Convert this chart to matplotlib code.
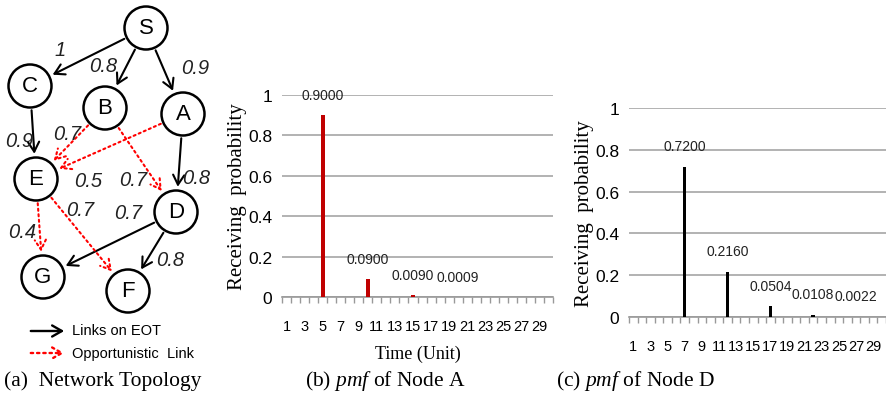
import matplotlib.pyplot as plt
from matplotlib.patches import Circle, FancyArrowPatch
import numpy as np

plt.rcParams['mathtext.fontset'] = 'custom'
plt.rcParams['mathtext.it'] = 'Liberation Serif:italic'
plt.rcParams['mathtext.rm'] = 'Liberation Serif'

# ---- data ----
time_units = list(range(1, 31))
tick_labels = [str(t) for t in range(1, 31, 2)]

pmf_a_times = [5, 10, 15, 20]
pmf_a_values = [0.9000, 0.0900, 0.0090, 0.0009]

pmf_d_times = [7, 12, 17, 22, 27]
pmf_d_values = [0.7200, 0.2160, 0.0504, 0.0108, 0.0022]

# network topology (positions in pixels of the left panel)
node_names = ['S', 'C', 'B', 'A', 'E', 'D', 'G', 'F']
node_x = [146, 30, 105, 183, 36, 176, 43, 128]
node_y = [29, 87, 109, 115, 180, 213, 278, 292]

eot_edges = [('S', 'C'), ('S', 'B'), ('S', 'A'), ('C', 'E'), ('A', 'D'), ('D', 'G'), ('D', 'F')]
opp_edges = [('B', 'E'), ('A', 'E'), ('B', 'D'), ('E', 'G'), ('E', 'F')]

edge_labels = ['1', '0.8', '0.9', '0.9', '0.7', '0.5', '0.7', '0.8', '0.7', '0.7', '0.4', '0.8']
edge_label_x = [60, 103, 195, 19, 67, 88, 133, 196, 80, 128, 22, 170]
edge_label_y = [51, 67, 69, 142, 135, 182, 181, 179, 211, 214, 233, 261]

W, H = 886, 402
fig = plt.figure(figsize=(W / 100, H / 100), dpi=100)

SANS = ['Liberation Sans', 'DejaVu Sans']
SERIF = ['Liberation Serif', 'DejaVu Serif']


def pmf_axes(rect, times, values, color, xlabel, ylab_x):
    ax = fig.add_axes(rect)
    ax.bar(times, values, width=0.42, color=color, zorder=3)
    for t, v in zip(times, values):
        ax.text(t, v + 0.065, '%.4f' % v, ha='center', va='bottom',
                fontsize=10, family=SANS, color='#222222')
    ax.set_xlim(0.5, 30.5)
    ax.set_ylim(0, 1)
    ax.set_yticks([0, 0.2, 0.4, 0.6, 0.8, 1])
    ax.set_yticklabels(['0', '0.2', '0.4', '0.6', '0.8', '1'], family=SANS, fontsize=12.5)
    ax.yaxis.grid(True, color='#a6a6a6', linewidth=1.2, zorder=0)
    ax.tick_params(axis='y', length=0, pad=7)
    ax.set_xticks(range(1, 31, 2))
    ax.set_xticklabels(tick_labels, family=SANS, fontsize=10.5)
    ax.set_xticks(np.arange(0.5, 31, 1), minor=True)
    ax.tick_params(axis='x', which='major', length=0, pad=16)
    ax.tick_params(axis='x', which='minor', length=4, color='#999999', width=1)
    for s in ['left', 'right', 'top']:
        ax.spines[s].set_visible(False)
    ax.spines['bottom'].set_color('#999999')
    ax.spines['bottom'].set_linewidth(1.2)
    ax.set_ylabel('Receiving  probability', family=SERIF, fontsize=15)
    ax.yaxis.set_label_coords(ylab_x, 0.5)
    if xlabel:
        ax.set_xlabel(xlabel, family=SERIF, fontsize=13, labelpad=8)
    return ax


pmf_axes([282 / W, 1 - 298 / H, 271 / W, 202 / H], pmf_a_times, pmf_a_values, '#c00000', 'Time (Unit)', -0.13)
pmf_axes([629 / W, 1 - 318 / H, 257 / W, 209 / H], pmf_d_times, pmf_d_values, 'black', None, -0.137)

# ---- network topology panel ----
gax = fig.add_axes([0, 0, 1, 1])
gax.set_xlim(0, W)
gax.set_ylim(H, 0)
gax.axis('off')

R = 21.5
pos = {n: (x, y) for n, x, y in zip(node_names, node_x, node_y)}
for n in node_names:
    x, y = pos[n]
    gax.add_patch(Circle((x, y), R, facecolor='white', edgecolor='black', linewidth=1.8, zorder=3))
    gax.text(x, y, n, ha='center', va='center', fontsize=16, family=['Liberation Sans'], zorder=4)

HEAD = '->,head_length=7,head_width=4'


def arrow(a, b, color, ls):
    (x1, y1), (x2, y2) = pos[a], pos[b]
    d = np.hypot(x2 - x1, y2 - y1)
    ux, uy = (x2 - x1) / d, (y2 - y1) / d
    p = FancyArrowPatch((x1 + ux * R, y1 + uy * R), (x2 - ux * (R + 1), y2 - uy * (R + 1)),
                        arrowstyle=HEAD, color=color,
                        linestyle=ls, linewidth=1.5, mutation_scale=1, zorder=2)
    gax.add_patch(p)


for a, b in eot_edges:
    arrow(a, b, 'black', '-')
for a, b in opp_edges:
    arrow(a, b, 'red', ':')

for lab, x, y in zip(edge_labels, edge_label_x, edge_label_y):
    gax.text(x, y, lab, ha='center', va='center', fontsize=14.5, style='italic',
             family=['Liberation Sans'], color='#222222', zorder=5)

# legend
gax.add_patch(FancyArrowPatch((28, 332), (67, 332), arrowstyle=HEAD,
                              color='black', linewidth=1.7, mutation_scale=1))
gax.add_patch(FancyArrowPatch((28, 354), (67, 354), arrowstyle=HEAD,
                              color='red', linestyle=':', linewidth=1.7, mutation_scale=1))
gax.text(72, 331, 'Links on EOT', va='center', fontsize=10.5, family=SANS)
gax.text(72, 354, 'Opportunistic  Link', va='center', fontsize=10.5, family=SANS)

# captions
cap = dict(va='center', fontsize=15.5, family=SERIF)
gax.text(4, 381, '(a)  Network Topology', ha='left', **cap)
gax.text(385, 381, '(b) $\\mathit{pmf}$ of Node A', ha='center', **cap)
gax.text(635, 381, '(c) $\\mathit{pmf}$ of Node D', ha='center', **cap)

fig.savefig('out.png', dpi=100)
